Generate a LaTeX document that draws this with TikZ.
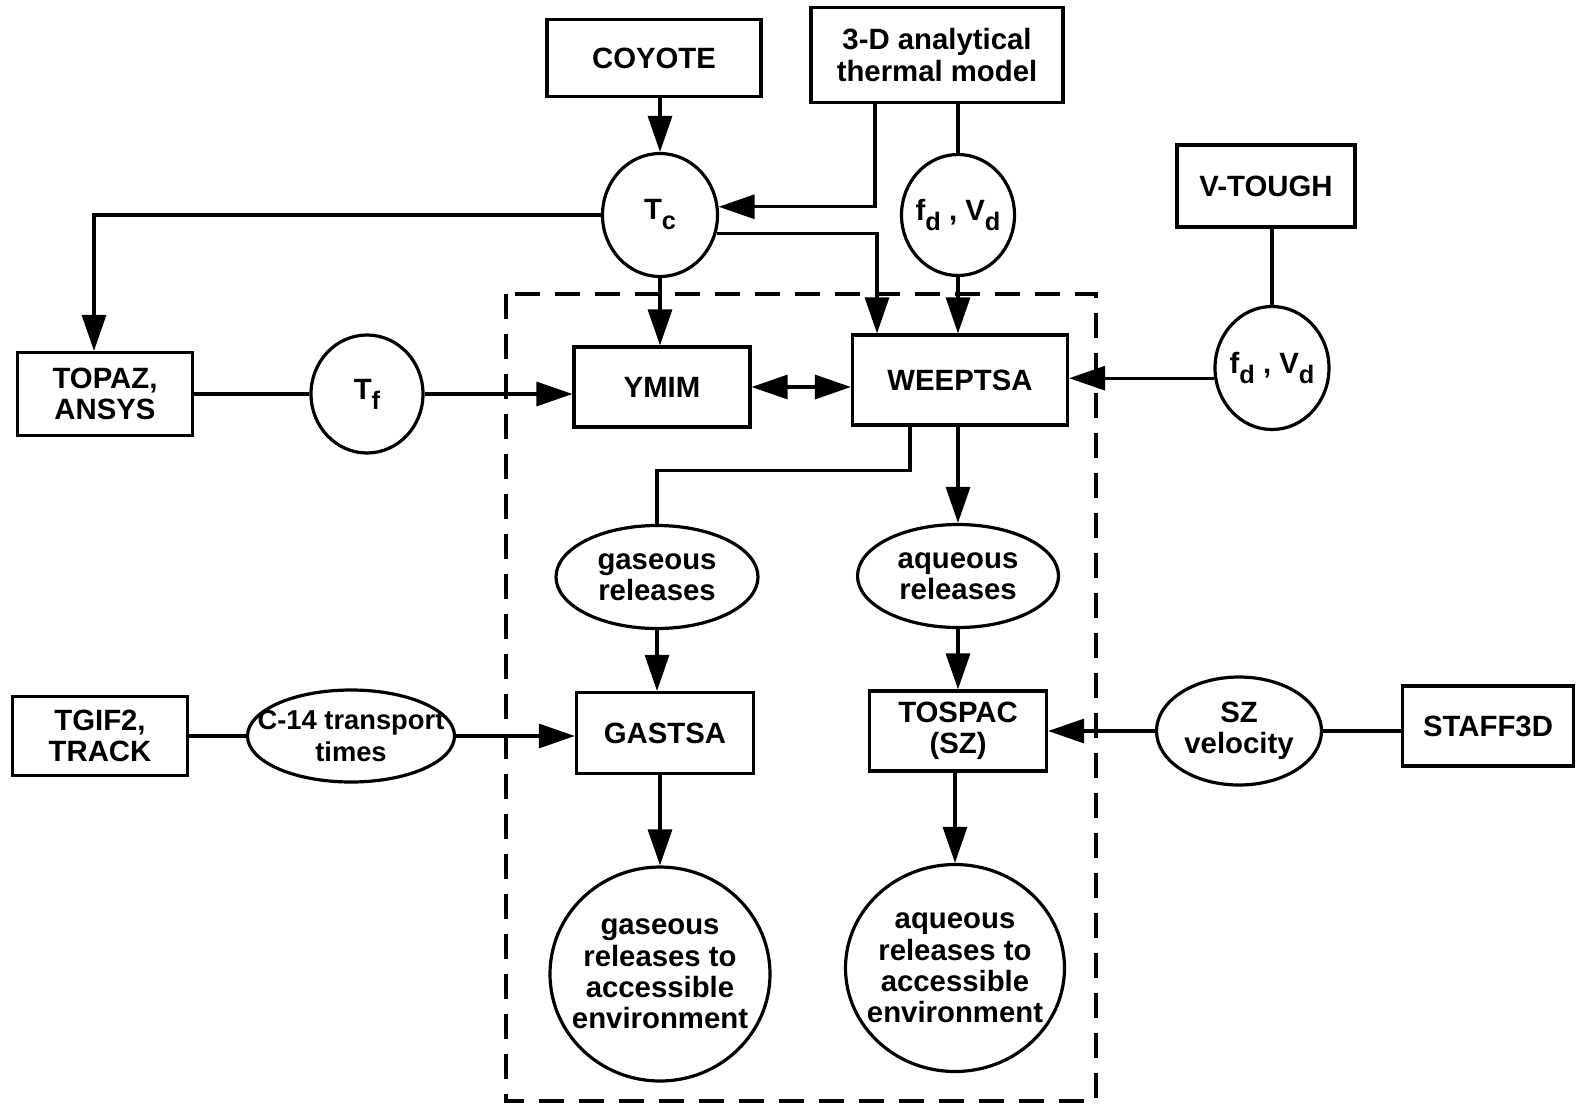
\documentclass[tikz,border=0pt]{standalone}
\usepackage{fontspec}
\setmainfont{Liberation Sans}
\usetikzlibrary{arrows.meta}
\usetikzlibrary{shapes.geometric}

\newcommand{\lowsub}[1]{\raisebox{-7.5pt}{\fontsize{19}{19}\selectfont #1}}

\begin{document}
\begin{tikzpicture}[x=0.75pt,y=0.75pt,yscale=-1,xscale=1,
  every node/.style={font=\bfseries\fontsize{22}{23.5}\selectfont, align=center},
  box/.style 2 args={draw, rectangle, line width=2.4pt, minimum width=#1*0.75pt, minimum height=#2*0.75pt, inner sep=0pt},
  bubble/.style 2 args={draw, ellipse, line width=2.4pt, minimum width=#1*0.75pt, minimum height=#2*0.75pt, inner sep=0pt},
  link/.style={line width=2.4pt},
  arrow/.style={line width=2.4pt, -{Triangle[length=27pt,width=18pt]}},
  dblarrow/.style={line width=2.4pt, {Triangle[length=27pt,width=18pt]}-{Triangle[length=27pt,width=18pt]}},
  frame/.style={line width=2.4pt, dash pattern=on 19pt off 11pt}
]
%set diagram left start at 0, and has height of 1107
\useasboundingbox (0,0) rectangle (1577,1107);

%Shape: Rectangle [dashed frame]
\draw [frame] (506,294) rectangle (1096,1101);

%Shape: Rectangle
\node [box={214}{77}] (coyote) at (654,58) {COYOTE};
%Shape: Rectangle
\node [box={252}{95}] (thermal) at (937,55) {3-D analytical\\thermal model};
%Shape: Rectangle
\node [box={178}{82}] (vtough) at (1266,186) {V-TOUGH};
%Shape: Rectangle
\node [box={175}{83}] (topaz) at (105,394) {TOPAZ,\\ANSYS};
%Shape: Rectangle
\node [box={176}{80}] (ymim) at (662,387) {YMIM};
%Shape: Rectangle
\node [box={215}{90}] (weeptsa) at (960,380) {WEEPTSA};
%Shape: Rectangle
\node [box={177}{81}] (gastsa) at (665,733) {GASTSA};
%Shape: Rectangle
\node [box={177}{80}] (tospac) at (958,731) {TOSPAC\\(SZ)};
%Shape: Rectangle
\node [box={175}{79}] (tgif) at (100,736) {TGIF2,\\TRACK};
%Shape: Rectangle
\node [box={171}{80}] (staff) at (1488,726) {STAFF3D};

%Shape: Ellipse
\node [bubble={115}{123}, label={center:{T\lowsub{c}}}] (tc) at (660,215) {};
%Shape: Ellipse
\node [bubble={113}{121}, label={center:{f\lowsub{d} , V\lowsub{d}}}] (fdtop) at (958,215) {};
%Shape: Ellipse
\node [bubble={114}{123}, label={center:{f\lowsub{d} , V\lowsub{d}}}] (fdright) at (1272,368) {};
%Shape: Ellipse
\node [bubble={112}{118}, label={center:{T\lowsub{f}}}] (tf) at (367,394) {};
%Shape: Ellipse
\node [bubble={202}{103}, label={center:{gaseous\\releases}}] (gasrel) at (657,577) {};
%Shape: Ellipse
\node [bubble={201}{103}, label={center:{aqueous\\releases}}] (aqrel) at (958,576) {};
%Shape: Ellipse
\node [bubble={207}{92}, label={[font=\bfseries\fontsize{20.5}{23.5}\selectfont]center:{C-14 transport\\times}}] (cfourteen) at (351,736) {};
%Shape: Ellipse
\node [bubble={165}{108}, label={center:{SZ\\velocity}}] (szvel) at (1239,731) {};
%Shape: Ellipse
\node [bubble={220}{214}, label={center:{gaseous\\releases to\\accessible\\environment}}] (gasenv) at (660,974) {};
%Shape: Ellipse
\node [bubble={219}{207}, label={center:{aqueous\\releases to\\accessible\\environment}}] (aqenv) at (955,968) {};

%Straight Lines
\draw [arrow] (tc.north |- coyote.south) -- (tc.north);
\draw [arrow] ([xshift=-46.5pt]thermal.south) |- (tc.8);
\draw [link] (fdtop.north |- thermal.south) -- (fdtop.north);
\draw [arrow] (tc.west) -| ([xshift=-8.25pt]topaz.north);
\draw [arrow] (tc.-18) -| ([xshift=-62.25pt]weeptsa.north);
\draw [arrow] (tc.south) -- (tc.south |- ymim.north);
\draw [arrow] (fdtop.south) -- (fdtop.south |- weeptsa.north);
\draw [link] (topaz.east) -- (tf.west);
\draw [arrow] (tf.east) -- (tf.east -| ymim.west);
\draw [dblarrow] (ymim.east) -- (ymim.east -| weeptsa.west);
\draw [link] (fdright.north |- vtough.south) -- (fdright.north);
\draw [arrow] (fdright.190) -- (fdright.190 -| weeptsa.east);
\draw [link] ([xshift=-37.5pt]weeptsa.south) -- ++(0,44) -| (gasrel.north);
\draw [arrow] (aqrel.north |- weeptsa.south) -- (aqrel.north);
\draw [arrow] (gasrel.south) -- (gasrel.south |- gastsa.north);
\draw [arrow] (aqrel.south) -- (aqrel.south |- tospac.north);
\draw [link] (tgif.east) -- (cfourteen.west);
\draw [arrow] (cfourteen.east) -- (cfourteen.east -| gastsa.west);
\draw [link] (szvel.east -| staff.west) -- (szvel.east);
\draw [arrow] (szvel.west) -- (szvel.west -| tospac.east);
\draw [arrow] (gasenv.north |- gastsa.south) -- (gasenv.north);
\draw [arrow] (aqenv.north |- tospac.south) -- (aqenv.north);

\end{tikzpicture}
\end{document}
